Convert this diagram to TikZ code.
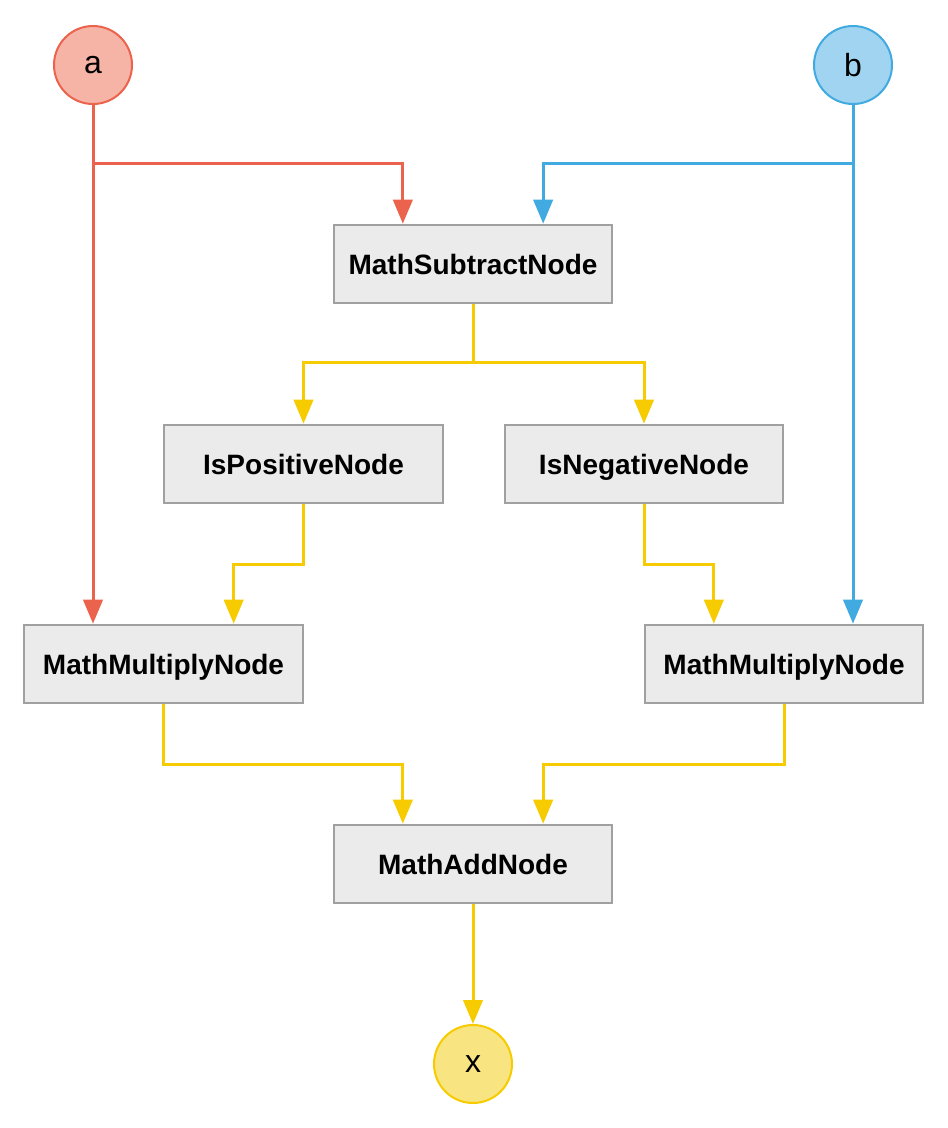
\documentclass[tikz,border=0pt]{standalone}
\usepackage{fontspec}
\setmainfont{Liberation Sans}
\usetikzlibrary{arrows.meta,calc}
\definecolor{aline}{RGB}{235,99,77}
\definecolor{afill}{RGB}{246,180,167}
\definecolor{bline}{RGB}{64,170,225}
\definecolor{bfill}{RGB}{160,212,240}
\definecolor{xline}{RGB}{246,203,0}
\definecolor{xfill}{RGB}{249,228,130}
\definecolor{boxline}{RGB}{160,160,160}
\definecolor{boxfill}{RGB}{235,235,235}
\tikzset{
  block/.style={draw=boxline, fill=boxfill, line width=1.5pt, minimum width=209pt, minimum height=59pt, text depth=0pt, font=\fontsize{21}{24}\selectfont\bfseries},
  io/.style={circle, line width=1.5pt, minimum size=58.5pt, inner sep=0pt, text depth=0pt, font=\fontsize{24}{28}\selectfont},
  wire/.style={line width=2.25pt, -{Triangle[length=18pt,width=14.5pt]}}
}
\begin{document}
\begin{tikzpicture}[x=0.75pt,y=-0.75pt]
  \useasboundingbox (0,0) rectangle (948,1128);
  \node[io, draw=aline, fill=afill] (a) at (93,65) {a};
  \node[io, draw=bline, fill=bfill] (b) at (853,65) {b};
  \node[block] (sub) at (473,264) {MathSubtractNode};
  \node[block] (pos) at (303.5,464) {IsPositiveNode};
  \node[block] (neg) at (644,464) {IsNegativeNode};
  \node[block] (mull) at (163.5,664) {MathMultiplyNode};
  \node[block] (mulr) at (784,664) {MathMultiplyNode};
  \node[block] (add) at (473,864) {MathAddNode};
  \node[io, draw=xline, fill=xfill] (x) at (473,1064) {x};
  \coordinate (sub-a) at ($(sub.north west)!.25!(sub.north east)$);
  \coordinate (sub-b) at ($(sub.north west)!.75!(sub.north east)$);
  \coordinate (mull-b) at ($(mull.north west)!.75!(mull.north east)$);
  \coordinate (mulr-a) at ($(mulr.north west)!.25!(mulr.north east)$);
  \coordinate (add-a) at ($(add.north west)!.25!(add.north east)$);
  \coordinate (add-b) at ($(add.north west)!.75!(add.north east)$);
  \draw[wire, aline] (a) -- (a |- mull.north);
  \draw[wire, aline] (a) -- ++(0,98) -| (sub-a);
  \draw[wire, bline] (b) -- (b |- mulr.north);
  \draw[wire, bline] (b) -- ++(0,98) -| (sub-b);
  \draw[wire, xline] (sub) -- ++(0,98) -| (pos);
  \draw[wire, xline] (sub) -- ++(0,98) -| (neg);
  \draw[wire, xline] (pos) -- ++(0,100) -| (mull-b);
  \draw[wire, xline] (neg) -- ++(0,100) -| (mulr-a);
  \draw[wire, xline] (mull) -- ++(0,100) -| (add-a);
  \draw[wire, xline] (mulr) -- ++(0,100) -| (add-b);
  \draw[wire, xline] (add) -- (x);
\end{tikzpicture}
\end{document}
